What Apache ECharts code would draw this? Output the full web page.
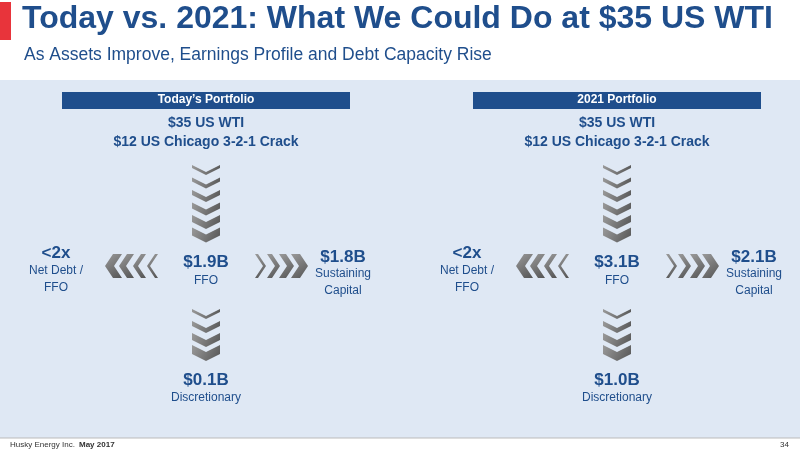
<!DOCTYPE html>
<html>
<head>
<meta charset="utf-8">
<script src="https://cdn.jsdelivr.net/npm/echarts@6/dist/echarts.min.js"></script>
<style>html,body{margin:0;padding:0;}#main{width:800px;height:450px;}</style>
</head>
<body>
<div id="main"></div>
<script>
// slide texts
var title = 'Today vs. 2021: What We Could Do at $35 US WTI';
var subtitle = 'As Assets Improve, Earnings Profile and Debt Capacity Rise';
var panels = ['Today\u2019s Portfolio', '2021 Portfolio'];
var ffo = ['$1.9B', '$3.1B'];
var sustaining = ['$1.8B', '$2.1B'];
var discretionary = ['$0.1B', '$1.0B'];
var leverage = ['<2x', '<2x'];
var assumptions = ['$35 US WTI', '$12 US Chicago 3-2-1 Crack'];

var chart = echarts.init(document.getElementById('main'));
var navy = '#1f4e8c';
var grey = {type: 'linear', x: 0, y: 0, x2: 1, y2: 1, colorStops: [{offset: 0, color: '#9a9a9a'}, {offset: 1, color: '#555'}]};

function chevron(pts) {
  return {type: 'polygon', shape: {points: pts}, style: {fill: grey}};
}
function down(cx, y, w, d, t) {
  return chevron([[cx - w / 2, y], [cx, y + d], [cx + w / 2, y], [cx + w / 2, y + t], [cx, y + d + t], [cx - w / 2, y + t]]);
}
function side(x, cy, h, d, t, dir) {
  // dir 1 = right, -1 = left
  return chevron([[x, cy - h / 2], [x + dir * d, cy], [x, cy + h / 2], [x + dir * t, cy + h / 2], [x + dir * (d + t), cy], [x + dir * t, cy - h / 2]]);
}
function txt(x, y, s, size, bold, color, align) {
  return {type: 'text', x: x, y: y, style: {text: s, fontSize: size, fontWeight: bold ? 'bold' : 'normal', fill: color || navy, align: align || 'center', verticalAlign: 'top', fontFamily: 'Liberation Sans'}};
}

var g = [
  {type: 'rect', shape: {x: 0, y: 0, width: 800, height: 450}, style: {fill: '#ffffff'}},
  {type: 'rect', shape: {x: 0, y: 80, width: 800, height: 358}, style: {fill: '#dfe8f4'}},
  {type: 'rect', shape: {x: 0, y: 2, width: 11, height: 38}, style: {fill: '#e8343b'}},
  txt(22, 3, title, 32, true, navy, 'left'),
  txt(24, 46, subtitle, 17.5, false, navy, 'left'),
  {type: 'line', shape: {x1: 0, y1: 438, x2: 800, y2: 438}, style: {stroke: '#bbb'}},
  txt(10, 441, 'Husky Energy Inc.', 8, false, '#333', 'left'),
  txt(79, 441, 'May 2017', 8, true, '#333', 'left'),
  txt(789, 441, '34', 8, false, '#333', 'right')
];

[0, 1].forEach(function (i) {
  var o = i * 411;
  var cx = 206 + o;
  g.push({type: 'rect', shape: {x: 62 + o, y: 92, width: 288, height: 17}, style: {fill: navy}});
  g.push(txt(cx, 94, panels[i], 12, true, '#ffffff'));
  g.push(txt(cx, 116, assumptions[0], 14, true));
  g.push(txt(cx, 135, assumptions[1], 14, true));
  [3, 4, 5, 6, 7, 8].forEach(function (t, k) { g.push(down(cx, 165 + k * 12.5, 28, 7, t)); });
  [3, 5, 7, 9].forEach(function (t, k) { g.push(down(cx, 309 + k * 12, 28, 7, t)); });
  [9, 7, 5, 3].forEach(function (t, k) { g.push(side(122 + o + k * 12, 266, 24, 8, t, -1)); });
  [3, 5, 7, 9].forEach(function (t, k) { g.push(side(255 + o + k * 12, 266, 24, 8, t, 1)); });
  g.push(txt(cx, 254, ffo[i], 17, true));
  g.push(txt(cx, 275, 'FFO', 12, false));
  g.push(txt(56 + o, 245, leverage[i], 17, true));
  g.push(txt(56 + o, 265, 'Net Debt /', 12, false));
  g.push(txt(56 + o, 282, 'FFO', 12, false));
  g.push(txt(343 + o, 249, sustaining[i], 17, true));
  g.push(txt(343 + o, 268, 'Sustaining', 12, false));
  g.push(txt(343 + o, 285, 'Capital', 12, false));
  g.push(txt(cx, 372, discretionary[i], 17, true));
  g.push(txt(cx, 392, 'Discretionary', 12, false));
});

chart.setOption({animation: false, graphic: g});
</script>
</body>
</html>
